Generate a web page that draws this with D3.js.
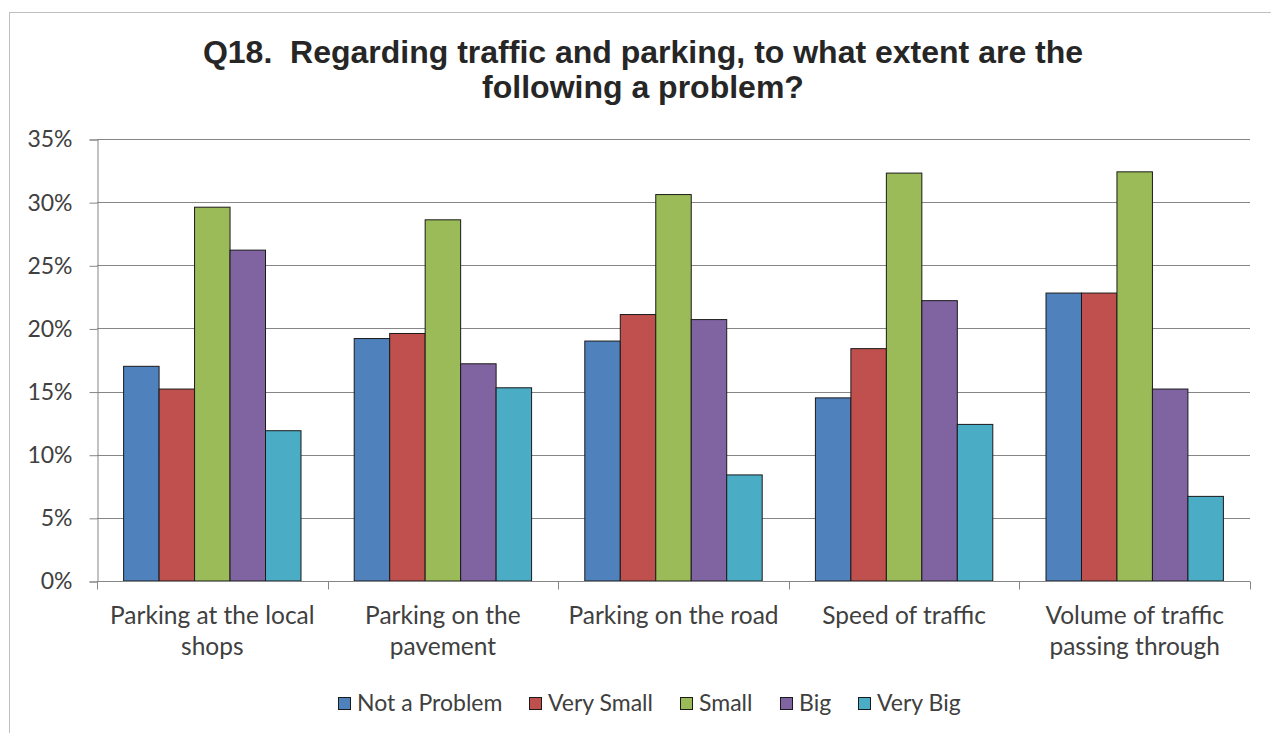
<!DOCTYPE html>
<html>
<head>
<meta charset="utf-8">
<script src="https://cdn.jsdelivr.net/npm/d3@7"></script>
<style>
  body { margin: 0; background: #fff; }
  svg { display: block; }
</style>
</head>
<body>
<div id="chart"></div>
<script>
// chart data (percent)
const categories = [
  'Parking at the local\nshops',
  'Parking on the\npavement',
  'Parking on the road',
  'Speed of traffic',
  'Volume of traffic\npassing through'
]
const seriesNames = ['Not a Problem', 'Very Small', 'Small', 'Big', 'Very Big']
const notAProblem = [17.0, 19.2, 19.0, 14.5, 22.8]
const verySmall = [15.2, 19.6, 21.1, 18.4, 22.8]
const small = [29.6, 28.6, 30.6, 32.3, 32.4]
const big = [26.2, 17.2, 20.7, 22.2, 15.2]
const veryBig = [11.9, 15.3, 8.4, 12.4, 6.7]
const yTicks = [0, 5, 10, 15, 20, 25, 30, 35]
const colors = ['#4F81BD', '#C0504D', '#9BBB59', '#8064A2', '#4BACC6']

const width = 1271
const height = 733
const margin = { top: 139, right: 21, bottom: 152, left: 97 }
const labelFont = 'Lato, "Open Sans", sans-serif'

const seriesValues = [notAProblem, verySmall, small, big, veryBig]
const rows = categories.map((c, i) => ({
  category: c,
  values: seriesNames.map((s, j) => ({ name: s, value: seriesValues[j][i] / 100 }))
}))

const svg = d3.select('#chart')
  .append('svg')
  .attr('width', width)
  .attr('height', height)

// outer chart border
svg.append('rect')
  .attr('x', 9.5)
  .attr('y', 12.5)
  .attr('width', width + 10)
  .attr('height', height + 10)
  .style('fill', 'none')
  .style('stroke', '#BFBFBF')

// title
const title = svg.append('text')
  .attr('x', 643)
  .attr('text-anchor', 'middle')
  .style('font-family', '"Liberation Sans", Arial, sans-serif')
  .style('font-weight', 'bold')
  .style('font-size', '32px')
  .style('fill', '#262626')
  .style('white-space', 'pre')
title.append('tspan').attr('x', 643).attr('y', 63)
  .text('Q18.  Regarding traffic and parking, to what extent are the')
title.append('tspan').attr('x', 643).attr('y', 98)
  .text('following a problem?')

const x0 = d3.scaleBand()
  .domain(categories)
  .range([margin.left, width - margin.right])
  .paddingInner(0)

const x1 = d3.scaleBand()
  .domain(seriesNames)
  .range([0, x0.bandwidth()])
  .paddingInner(0)
  .paddingOuter(0.75)

const y = d3.scaleLinear()
  .domain([0, 0.35])
  .range([height - margin.bottom, margin.top])

const color = d3.scaleOrdinal()
  .domain(seriesNames)
  .range(colors)

// gridlines
svg.append('g')
  .selectAll('line')
  .data(yTicks.slice(1))
  .enter()
  .append('line')
  .attr('x1', margin.left)
  .attr('x2', width - margin.right)
  .attr('y1', d => Math.round(y(d / 100)) + 0.5)
  .attr('y2', d => Math.round(y(d / 100)) + 0.5)
  .style('stroke', '#868686')
  .style('stroke-width', 1)

// y axis
const yAxis = svg.append('g')
  .attr('transform', `translate(${margin.left + 0.5},0.5)`)
  .call(d3.axisLeft(y)
    .tickValues(yTicks.map(d => d / 100))
    .tickSize(8)
    .tickPadding(17)
    .tickFormat(d3.format('.0%')))
yAxis.selectAll('path, line').style('stroke', '#868686')
yAxis.selectAll('text')
  .style('font-family', labelFont)
  .style('font-size', '23px')
  .style('fill', '#404040')

// bars
svg.append('g')
  .selectAll('g')
  .data(rows)
  .enter()
  .append('g')
  .attr('transform', d => `translate(${x0(d.category)},0)`)
  .selectAll('rect')
  .data(d => d.values)
  .enter()
  .append('rect')
  .attr('x', d => x1(d.name))
  .attr('y', d => y(d.value))
  .attr('width', x1.bandwidth())
  .attr('height', d => y(0) - y(d.value))
  .style('fill', d => color(d.name))
  .style('stroke', '#1a1a1a')
  .style('stroke-width', 1)

// x axis line and ticks between categories
const xAxis = svg.append('g')
const y0 = Math.round(y(0)) + 0.5
xAxis.append('line')
  .attr('x1', margin.left)
  .attr('x2', width - margin.right)
  .attr('y1', y0)
  .attr('y2', y0)
  .style('stroke', '#868686')
const bounds = categories.map(c => x0(c)).concat([x0.range()[1]])
xAxis.selectAll('line.tick')
  .data(bounds)
  .enter()
  .append('line')
  .attr('class', 'tick')
  .attr('x1', d => Math.round(d) + 0.5)
  .attr('x2', d => Math.round(d) + 0.5)
  .attr('y1', y0)
  .attr('y2', y0 + 8)
  .style('stroke', '#868686')

// category labels
xAxis.selectAll('text')
  .data(categories)
  .enter()
  .append('text')
  .attr('text-anchor', 'middle')
  .style('font-family', labelFont)
  .style('font-size', '24.5px')
  .style('fill', '#404040')
  .each(function (d) {
    const cx = x0(d) + x0.bandwidth() / 2
    d.split('\n').forEach((line, i) => {
      d3.select(this).append('tspan')
        .attr('x', cx)
        .attr('y', 624 + i * 31)
        .text(line)
    })
  })

// legend, laid out from measured text widths
const legend = svg.append('g')
const items = legend.selectAll('g')
  .data(seriesNames)
  .enter()
  .append('g')
items.append('rect')
  .attr('x', 0.5)
  .attr('y', 697.5)
  .attr('width', 12)
  .attr('height', 12)
  .style('fill', d => color(d))
  .style('stroke', '#1a1a1a')
items.append('text')
  .attr('x', 19)
  .attr('y', 711)
  .style('font-family', labelFont)
  .style('font-size', '23px')
  .style('fill', '#404040')
  .text(d => d)
let offset = 0
const offsets = []
items.each(function () {
  offsets.push(offset)
  offset += 19 + this.querySelector('text').getComputedTextLength() + 27
})
const legendWidth = offset - 27
const legendLeft = 649 - legendWidth / 2
items.attr('transform', (d, i) => `translate(${Math.round(legendLeft + offsets[i])},0)`)
</script>
</body>
</html>
